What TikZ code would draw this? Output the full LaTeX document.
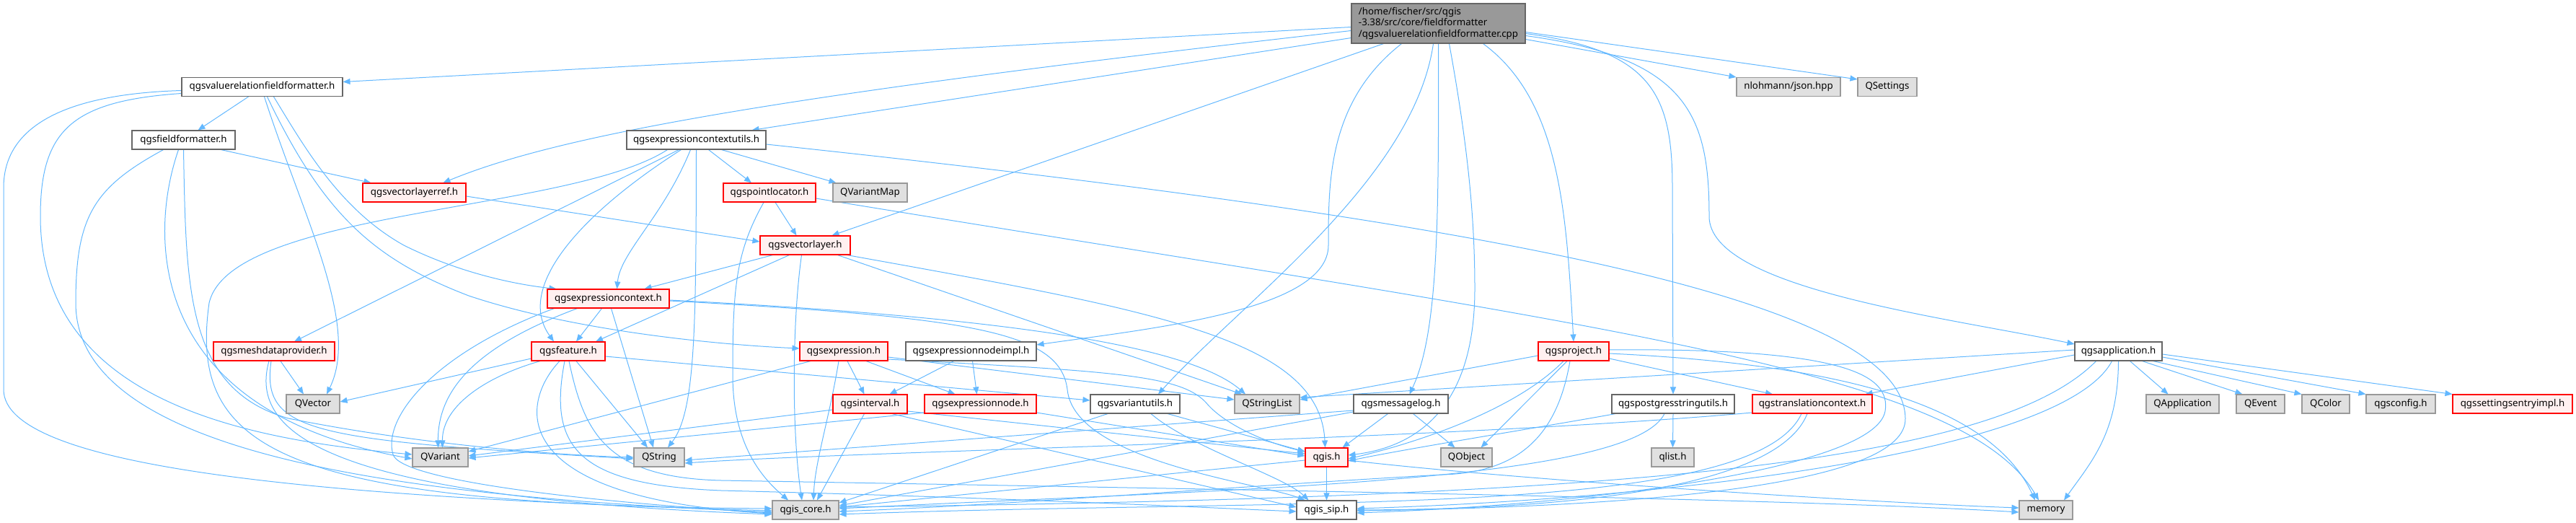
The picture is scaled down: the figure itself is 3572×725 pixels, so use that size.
\documentclass[tikz,border=0pt]{standalone}
\usepackage{fontspec}
\setmainfont{Noto Sans}
\usetikzlibrary{arrows.meta,backgrounds}
\definecolor{edgec}{HTML}{63B8FF}
\definecolor{redfill}{HTML}{FFF0F0}
\definecolor{greyfill}{HTML}{E0E0E0}
\definecolor{greyline}{HTML}{999999}
\definecolor{darkline}{HTML}{666666}
\definecolor{rootfill}{HTML}{999999}
\newcommand\nfont{\fontsize{13.3}{15.2}\selectfont}
\begin{document}
\begin{tikzpicture}[x=1pt,y=-1pt,
  nbox/.style={draw, rectangle, minimum height=26pt, inner sep=0pt, font=\nfont, line width=1.1pt},
  wbox/.style={nbox, draw=darkline, fill=white},
  rbox/.style={nbox, draw=red, fill=redfill},
  gbox/.style={nbox, draw=greyline, fill=greyfill},
  dep/.style={draw=edgec, line width=1pt, -{Triangle[length=10pt,width=8pt]}}]
\useasboundingbox (0,0) rectangle (3572,725);
% nodes
\node[nbox, draw=darkline, fill=rootfill, minimum width=241pt, minimum height=55pt, align=left] (R) at (1994.5,32.5) {/home/fischer/src/qgis\\-3.38/src/core/fieldformatter\\/qgsvaluerelationfieldformatter.cpp};
\node[wbox,minimum width=223pt] (vrf) at (363.5,120.5) {qgsvaluerelationfieldformatter.h};
\node[gbox,minimum width=144pt] (json) at (2480,120.5) {nlohmann/json.hpp};
\node[gbox,minimum width=82pt] (qsettings) at (2617,120.5) {QSettings};
\node[wbox,minimum width=143pt] (ff) at (254.5,194) {qgsfieldformatter.h};
\node[wbox,minimum width=193pt] (ecu) at (965.5,194) {qgsexpressioncontextutils.h};
\node[rbox,minimum width=143pt] (vlr) at (574.5,267) {qgsvectorlayerref.h};
\node[rbox,minimum width=128pt] (pl) at (1067,267) {qgspointlocator.h};
\node[gbox,minimum width=103pt] (vmap) at (1206.5,267) {QVariantMap};
\node[rbox,minimum width=125pt] (vl) at (1116.5,340) {qgsvectorlayer.h};
\node[rbox,minimum width=169pt] (ec) at (843.5,414) {qgsexpressioncontext.h};
\node[rbox,minimum width=168pt] (mdp) at (380,487) {qgsmeshdataprovider.h};
\node[rbox,minimum width=102pt] (feat) at (788,487) {qgsfeature.h};
\node[rbox,minimum width=122pt] (expr) at (1170,487) {qgsexpression.h};
\node[wbox,minimum width=181pt] (eni) at (1346.5,487) {qgsexpressionnodeimpl.h};
\node[rbox,minimum width=98pt] (proj) at (2182,487) {qgsproject.h};
\node[wbox,minimum width=121pt] (app) at (2937.5,487) {qgsapplication.h};
\node[gbox,minimum width=74pt] (qvector) at (434,560) {QVector};
\node[rbox,minimum width=103pt] (interval) at (1206.5,560) {qgsinterval.h};
\node[rbox,minimum width=155pt] (en) at (1359.5,560) {qgsexpressionnode.h};
\node[wbox,minimum width=124pt] (vu) at (1574,560) {qgsvariantutils.h};
\node[gbox,minimum width=90pt] (qsl) at (1757,560) {QStringList};
\node[wbox,minimum width=131pt] (ml) at (1942.5,560) {qgsmessagelog.h};
\node[wbox,minimum width=170pt] (pgu) at (2320,560) {qgspostgresstringutils.h};
\node[rbox,minimum width=166pt] (tc) at (2513,560) {qgstranslationcontext.h};
\node[gbox,minimum width=101pt] (qapp) at (3026.5,560) {QApplication};
\node[gbox,minimum width=67pt] (qevent) at (3134.5,560) {QEvent};
\node[gbox,minimum width=66pt] (qcolor) at (3225,560) {QColor};
\node[gbox,minimum width=96pt] (qgsconfig) at (3329,560) {qgsconfig.h};
\node[rbox,minimum width=166pt] (sei) at (3484,560) {qgssettingsentryimpl.h};
\node[gbox,minimum width=77pt] (qvariant) at (610.5,634) {QVariant};
\node[gbox,minimum width=70pt] (qstring) at (914,634) {QString};
\node[rbox,minimum width=59pt] (qgis) at (1839.5,634) {qgis.h};
\node[gbox,minimum width=71pt] (qobject) at (2033.5,634) {QObject};
\node[gbox,minimum width=59pt] (qlist) at (2319.5,634) {qlist.h};
\node[gbox,minimum width=92pt] (core) at (1117,707) {qgis\_core.h};
\node[wbox,minimum width=83pt] (sip) at (1839.5,707) {qgis\_sip.h};
\node[gbox,minimum width=74pt] (memory) at (2837,707) {memory};
% edges
\begin{scope}[on background layer]
% root
\draw[dep] ([yshift=-5pt]R.west) -- ([yshift=7pt]vrf.east);
\draw[dep] ([yshift=-10pt]R.west) .. controls (1100,130) and (780,185) .. ([xshift=40pt]vlr.north);
\draw[dep] ([yshift=-20pt]R.west) -- ([xshift=-20pt]ecu.north east);
\draw[dep] ([xshift=-76pt]R.south) -- ([xshift=37pt]vl.north);
\draw[dep] ([xshift=-51pt]R.south) .. controls (1842,140) and (1842,250) .. (1842,340) .. controls (1842,430) and (1600,455) .. ([yshift=9pt]eni.east);
\draw[dep] ([xshift=-7pt]R.south) .. controls (1960,250) and (1720,420) .. ([xshift=32pt]vu.north);
\draw[dep] (R.south) .. controls (1995,300) and (1995,460) .. ([xshift=12pt]ml.north);
\draw[dep] ([xshift=15pt]R.south) .. controls (2035,200) and (2045,300) .. (2045,400) .. controls (2045,570) and (1960,620) .. ([yshift=3pt]qgis.east);
\draw[dep] ([xshift=62pt]R.south) .. controls (2165,140) and (2172,300) .. (proj.north);
\draw[dep] ([yshift=-14pt]R.east) .. controls (2290,70) and (2319,130) .. (2319,260) -- (pgu.north);
\draw[dep] ([yshift=-17pt]R.east) .. controls (2340,80) and (2370,160) .. (2370,300) .. controls (2370,400) and (2700,440) .. ([yshift=10pt]app.west);
\draw[dep] ([yshift=-22pt]R.east) -- (json.north west);
\draw[dep] ([yshift=-12pt]R.east) -- ([yshift=-3pt]qsettings.north west);
% vrf
\draw[dep] ([xshift=-19pt]vrf.south) -- ([xshift=20pt]ff.north);
\draw[dep] ([yshift=-5pt]vrf.west) .. controls (100,130) and (5,170) .. (5,260) -- (5,540) .. controls (5,650) and (450,690) .. ([yshift=-1pt]core.west);
\draw[dep] ([yshift=-9pt]vrf.west) .. controls (100,140) and (56,180) .. (56,300) .. controls (56,560) and (350,610) .. ([yshift=4pt]qvariant.west);
\draw[dep] ([xshift=3pt]vrf.south) .. controls (420,300) and (500,450) .. ([xshift=19pt]qvector.north);
\draw[dep] ([xshift=7pt]vrf.south) .. controls (450,300) and (520,360) .. (650,410) .. controls (800,460) and (1000,478) .. ([yshift=4pt]expr.west);
\draw[dep] ([xshift=16pt]vrf.south) .. controls (420,200) and (470,290) .. (560,340) .. controls (640,380) and (720,395) .. ([xshift=13pt]ec.north west);
% ff
\draw[dep] ([xshift=52pt]ff.south) -- ([xshift=-60pt]vlr.north);
\draw[dep] ([xshift=-28pt]ff.south) .. controls (130,260) and (105,300) .. (105,420) .. controls (105,640) and (600,690) .. ([yshift=-3pt]core.west);
\draw[dep] ([xshift=-7pt]ff.south) .. controls (205,330) and (205,570) .. ([yshift=-2pt]qvariant.west);
\draw[dep] (ff.south) .. controls (258,400) and (258,540) .. (400,580) .. controls (600,620) and (800,632) .. (qstring.west);
% vlr
\draw[dep] ([yshift=-5pt]vlr.east) -- ([yshift=5pt]vl.west);
% ecu
\draw[dep] ([xshift=-40pt]ecu.south) .. controls (790,295) and (320,290) .. (290,420) .. controls (262,620) and (380,700) .. ([yshift=2pt]core.west);
\draw[dep] ([xshift=-24pt]ecu.south) -- ([xshift=28pt]mdp.north);
\draw[dep] ([xshift=-21pt]ecu.south) .. controls (800,300) and (715,400) .. ([xshift=-20pt]feat.north);
\draw[dep] ([xshift=-8pt]ecu.south) .. controls (920,300) and (860,350) .. ([xshift=12pt]ec.north);
\draw[dep] (ecu.south) .. controls (965,450) and (965,570) .. ([xshift=12pt]qstring.north);
\draw[dep] ([xshift=17pt]ecu.south) -- ([xshift=-25pt]pl.north);
\draw[dep] ([xshift=35pt]ecu.south) -- ([xshift=5pt]vmap.north west);
\draw[dep] ([yshift=-6pt]ecu.east) .. controls (2100,310) and (2640,420) .. (2642,580) .. controls (2644,670) and (2300,702) .. ([yshift=-1pt]sip.east);
% pl
\draw[dep] ([xshift=8pt]pl.south) -- ([xshift=-12pt]vl.north);
\draw[dep] ([xshift=-8pt]pl.south) .. controls (1020,350) and (1016,400) .. (1016,520) .. controls (1016,620) and (1060,665) .. ([xshift=-24pt]core.north);
\draw[dep] ([yshift=-8pt]pl.east) .. controls (2200,450) and (2720,510) .. ([xshift=-10pt]memory.north);
% vl
\draw[dep] ([xshift=-45pt]vl.south) -- ([xshift=50pt]ec.north);
\draw[dep] ([xshift=-22pt]vl.south) -- ([xshift=38pt]feat.north);
\draw[dep] ([xshift=-5pt]vl.south) .. controls (1098,450) and (1098,600) .. ([xshift=-5pt]core.north);
\draw[dep] ([xshift=45pt]vl.south) -- ([xshift=-35pt]qsl.north);
\draw[dep] ([xshift=58pt]vl.south) .. controls (1600,430) and (1830,470) .. ([xshift=-2pt]qgis.north);
% ec
\draw[dep] ([xshift=-75pt]ec.south) .. controls (600,490) and (530,580) .. (545,630) .. controls (555,665) and (800,695) .. ([yshift=-4pt]core.west);
\draw[dep] ([xshift=-43pt]ec.south) .. controls (660,480) and (607,540) .. ([xshift=-3pt]qvariant.north);
\draw[dep] ([xshift=-9pt]ec.south) -- ([xshift=11pt]feat.north);
\draw[dep] ([xshift=4pt]ec.south) -- ([xshift=-8pt]qstring.north);
\draw[dep] ([yshift=-2pt]ec.east) .. controls (1400,440) and (1650,480) .. ([xshift=-30pt]qsl.north);
\draw[dep] ([yshift=-3pt]ec.east) .. controls (1350,440) and (1470,460) .. (1480,540) .. controls (1490,640) and (1750,670) .. ([xshift=-30pt]sip.north);
% feat
\draw[dep] ([yshift=-10pt]feat.west) -- ([yshift=3pt]qvector.east);
\draw[dep] ([xshift=-39pt]feat.south) .. controls (680,520) and (613,560) .. ([xshift=3pt]qvariant.north);
\draw[dep] ([xshift=-12pt]feat.south) .. controls (720,560) and (700,690) .. ([yshift=-5pt]core.west);
\draw[dep] ([xshift=-5pt]feat.south) .. controls (760,620) and (800,672) .. (1000,680) .. controls (1400,690) and (1700,705) .. ([yshift=-2pt]sip.west);
\draw[dep] ([xshift=1pt]feat.south) .. controls (810,600) and (840,662) .. (1000,666) .. controls (1800,680) and (2500,692) .. ([yshift=-3pt]memory.west);
\draw[dep] ([xshift=11pt]feat.south) -- ([xshift=-16pt]qstring.north);
\draw[dep] ([yshift=-7pt]feat.east) -- ([yshift=5pt]vu.west);
% mdp
\draw[dep] ([xshift=9pt]mdp.south) -- ([xshift=-13pt]qvector.north);
\draw[dep] ([xshift=-4pt]mdp.south) .. controls (362,600) and (430,610) .. ([yshift=-2pt]qstring.west);
\draw[dep] ([xshift=-7pt]mdp.south) .. controls (345,600) and (450,690) .. ([yshift=-6pt]core.west);
% expr
\draw[dep] ([xshift=-46pt]expr.south) -- ([yshift=8pt]qvariant.east);
\draw[dep] ([xshift=-7pt]expr.south) .. controls (1150,580) and (1130,640) .. ([xshift=11pt]core.north);
\draw[dep] ([xshift=5pt]expr.south) -- ([xshift=-8pt]interval.north);
\draw[dep] ([xshift=31pt]expr.south) -- ([xshift=-35pt]en.north);
\draw[dep] ([yshift=-8pt]expr.east) -- ([yshift=6pt]qsl.west);
\draw[dep] ([yshift=-11pt]expr.east) .. controls (1550,515) and (1640,520) .. (1674,560) .. controls (1700,590) and (1760,615) .. ([yshift=8pt]qgis.west);
% eni
\draw[dep] ([xshift=-24pt]eni.south) -- ([xshift=27pt]interval.north);
\draw[dep] ([xshift=2pt]eni.south) -- ([xshift=-5pt]en.north);
% interval
\draw[dep] ([yshift=-8pt]interval.west) -- ([yshift=2pt]qvariant.east);
\draw[dep] ([xshift=-8pt]interval.south) -- ([xshift=16pt]core.north);
\draw[dep] ([xshift=30pt]interval.south) -- ([yshift=4pt]sip.west);
\draw[dep] ([yshift=-10pt]interval.east) -- ([yshift=5pt]qgis.west);
% en
\draw[dep] ([yshift=-12pt]en.west) -- ([yshift=-1pt]qvariant.east);
\draw[dep] ([yshift=-12pt]en.east) -- ([yshift=2pt]qgis.west);
% vu
\draw[dep] ([xshift=-38pt]vu.south) -- ([yshift=10pt]core.east);
\draw[dep] ([xshift=22pt]vu.south) .. controls (1650,620) and (1780,660) .. ([xshift=-25pt]sip.north);
\draw[dep] ([xshift=45pt]vu.south) -- ([yshift=8pt]qgis.west);
% ml
\draw[dep] ([yshift=-9pt]ml.west) -- ([yshift=-4pt]qstring.east);
\draw[dep] ([yshift=-11pt]ml.west) -- ([yshift=6pt]core.east);
\draw[dep] ([xshift=-18pt]ml.south) -- ([xshift=22pt]qgis.north);
\draw[dep] ([xshift=17pt]ml.south) -- ([xshift=-16pt]qobject.north);
% proj
\draw[dep] ([yshift=-6pt]proj.west) -- ([yshift=6pt]qsl.east);
\draw[dep] ([xshift=-14pt]proj.south) .. controls (2100,570) and (1960,615) .. ([yshift=-2pt]qgis.east);
\draw[dep] ([xshift=-9pt]proj.south) -- ([xshift=20pt]qobject.north);
\draw[dep] ([xshift=-5pt]proj.south) .. controls (2160,600) and (2110,655) .. (2000,658) .. controls (1700,675) and (1400,700) .. ([yshift=-2pt]core.east);
\draw[dep] ([yshift=-10pt]proj.east) -- ([xshift=-55pt]tc.north);
\draw[dep] ([yshift=-3pt]proj.east) .. controls (2550,505) and (2760,560) .. ([xshift=-15pt]memory.north);
\draw[dep] ([yshift=2pt]proj.east) .. controls (2560,482) and (2622,520) .. (2614,570) .. controls (2600,650) and (2200,700) .. ([yshift=-4pt]sip.east);
% pgu
\draw[dep] ([xshift=-80pt]pgu.south) .. controls (2150,590) and (1950,622) .. ([yshift=-5pt]qgis.east);
\draw[dep] ([xshift=-12pt]pgu.south) .. controls (2260,670) and (1700,678) .. ([yshift=2pt]core.east);
\draw[dep] (pgu.south) -- (qlist.north);
% tc
\draw[dep] ([yshift=-12pt]tc.west) .. controls (2000,610) and (1200,625) .. ([yshift=-8pt]qstring.east);
\draw[dep] ([xshift=-15pt]tc.south) .. controls (2430,720) and (1800,690) .. ([yshift=-6pt]core.east);
\draw[dep] ([xshift=-7pt]tc.south) .. controls (2460,690) and (2100,706) .. (sip.east);
% app
\draw[dep] ([yshift=2pt]app.west) -- ([yshift=9pt]qsl.east);
\draw[dep] ([yshift=-5pt]app.west) -- ([xshift=-10pt]tc.north east);
\draw[dep] ([xshift=-31pt]app.south) .. controls (2760,650) and (2200,690) .. ([yshift=4pt]core.east);
\draw[dep] ([xshift=-9pt]app.south) .. controls (2860,630) and (2300,692) .. ([yshift=2pt]sip.east);
\draw[dep] (app.south) .. controls (2937,600) and (2900,640) .. ([xshift=25pt]memory.north);
\draw[dep] ([xshift=16pt]app.south) -- ([xshift=-20pt]qapp.north);
\draw[dep] ([xshift=33pt]app.south) -- ([xshift=-25pt]qevent.north);
\draw[dep] ([xshift=48pt]app.south) -- (qcolor.north west);
\draw[dep] ([yshift=-8pt]app.east) -- (qgsconfig.north west);
\draw[dep] ([yshift=-4pt]app.east) -- (sei.north west);
% qgis
\draw[dep] (qgis.south) -- (sip.north);
\draw[dep] ([yshift=-4pt]qgis.west) -- ([yshift=4pt]core.east);
\draw[dep] ([yshift=-4pt]qgis.east) .. controls (2100,665) and (2600,697) .. ([yshift=3pt]memory.west);
\end{scope}
\end{tikzpicture}
\end{document}
